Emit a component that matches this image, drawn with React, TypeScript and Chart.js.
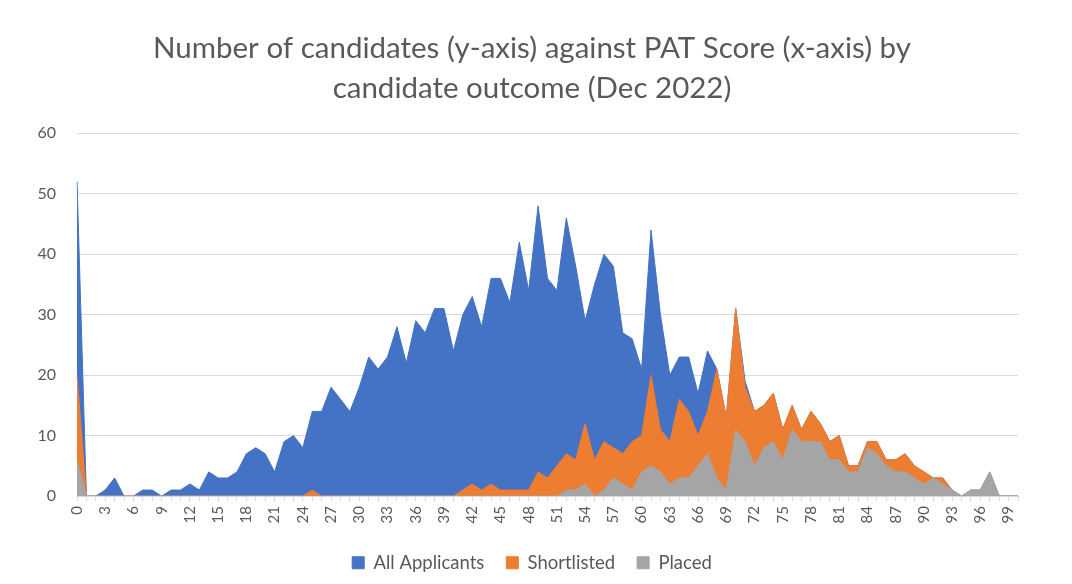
import React, { useEffect, useRef } from 'react';
import { Chart, registerables } from 'chart.js';

Chart.register(...registerables);

const TITLE_LINES = [
  'Number of candidates (y-axis) against PAT Score (x-axis) by',
  'candidate outcome (Dec 2022)',
];

const PAT_SCORES = [
  0, 1, 2, 3, 4, 5, 6, 7, 8, 9, 10, 11, 12, 13, 14, 15, 16, 17, 18, 19,
  20, 21, 22, 23, 24, 25, 26, 27, 28, 29, 30, 31, 32, 33, 34, 35, 36, 37, 38, 39,
  40, 41, 42, 43, 44, 45, 46, 47, 48, 49, 50, 51, 52, 53, 54, 55, 56, 57, 58, 59,
  60, 61, 62, 63, 64, 65, 66, 67, 68, 69, 70, 71, 72, 73, 74, 75, 76, 77, 78, 79,
  80, 81, 82, 83, 84, 85, 86, 87, 88, 89, 90, 91, 92, 93, 94, 95, 96, 97, 98, 99,
  100,
];

const ALL_APPLICANTS = [
  52, 0, 0, 1, 3, 0, 0, 1, 1, 0, 1, 1, 2, 1, 4, 3, 3, 4, 7, 8,
  7, 4, 9, 10, 8, 14, 14, 18, 16, 14, 18, 23, 21, 23, 28, 22, 29, 27, 31, 31,
  24, 30, 33, 28, 36, 36, 32, 42, 34, 48, 36, 34, 46, 38, 29, 35, 40, 38, 27, 26,
  21, 44, 30, 20, 23, 23, 17, 24, 21, 13, 31, 19, 14, 15, 17, 11, 15, 11, 14, 12,
  9, 10, 5, 5, 9, 9, 6, 6, 7, 5, 4, 3, 3, 1, 0, 1, 1, 4, 0, 0,
  0,
];

const SHORTLISTED = [
  20, 0, 0, 0, 0, 0, 0, 0, 0, 0, 0, 0, 0, 0, 0, 0, 0, 0, 0, 0,
  0, 0, 0, 0, 0, 1, 0, 0, 0, 0, 0, 0, 0, 0, 0, 0, 0, 0, 0, 0,
  0, 1, 2, 1, 2, 1, 1, 1, 1, 4, 3, 5, 7, 6, 12, 6, 9, 8, 7, 9,
  10, 20, 11, 9, 16, 14, 10, 14, 21, 13, 31, 18, 14, 15, 17, 11, 15, 11, 14, 12,
  9, 10, 5, 5, 9, 9, 6, 6, 7, 5, 4, 3, 3, 1, 0, 0, 0, 0, 0, 0,
  0,
];

const PLACED = [
  6, 0, 0, 0, 0, 0, 0, 0, 0, 0, 0, 0, 0, 0, 0, 0, 0, 0, 0, 0,
  0, 0, 0, 0, 0, 0, 0, 0, 0, 0, 0, 0, 0, 0, 0, 0, 0, 0, 0, 0,
  0, 0, 0, 0, 0, 0, 0, 0, 0, 0, 0, 0, 1, 1, 2, 0, 1, 3, 2, 1,
  4, 5, 4, 2, 3, 3, 5, 7, 3, 1, 11, 9, 5, 8, 9, 6, 11, 9, 9, 9,
  6, 6, 4, 4, 8, 7, 5, 4, 4, 3, 2, 3, 2, 1, 0, 1, 1, 4, 0, 0,
  0,
];

const SERIES_NAMES = ['All Applicants', 'Shortlisted', 'Placed'];
const SERIES_COLORS = ['#4472C4', '#ED7D31', '#A5A5A5'];

const Y_MIN = 0;
const Y_MAX = 60;
const Y_STEP = 10;
const X_LABEL_EVERY = 3;

const FONT = 'Lato, "Open Sans", "DejaVu Sans", sans-serif';
const TEXT_COLOR = '#595959';
const GRID_COLOR = '#D9D9D9';

export default function App() {
  const canvasRef = useRef<HTMLCanvasElement | null>(null);

  useEffect(() => {
    const canvas = canvasRef.current;
    if (!canvas) return;
    const seriesValues = [ALL_APPLICANTS, SHORTLISTED, PLACED];
    const chart = new Chart(canvas, {
      type: 'line',
      data: {
        labels: PAT_SCORES.map(String),
        datasets: seriesValues.map((vals, i) => ({
          label: SERIES_NAMES[i],
          data: vals,
          backgroundColor: SERIES_COLORS[i],
          borderColor: SERIES_COLORS[i],
          borderWidth: 1,
          pointRadius: 0,
          pointHoverRadius: 0,
          tension: 0,
          fill: 'origin',
          order: 3 - i,
          yAxisID: 'y',
        })),
      },
      options: {
        animation: false,
        responsive: false,
        maintainAspectRatio: false,
        events: [],
        layout: { padding: { left: 0, right: 8, top: 0, bottom: 2 } },
        plugins: {
          title: {
            display: true,
            text: TITLE_LINES,
            color: TEXT_COLOR,
            font: { family: FONT, size: 29.5, weight: 'normal', lineHeight: 1.36 },
            padding: { top: 28, bottom: 25 },
          },
          legend: {
            display: true,
            position: 'bottom',
            labels: {
              color: TEXT_COLOR,
              font: { family: FONT, size: 18.5 },
              boxWidth: 12,
              boxHeight: 12,
              padding: 22,
              sort: (a: any, b: any) => a.datasetIndex - b.datasetIndex,
            },
          },
          tooltip: { enabled: false },
        },
        scales: {
          x: {
            type: 'category',
            offset: false,
            ticks: {
              autoSkip: false,
              maxRotation: 90,
              minRotation: 90,
              color: TEXT_COLOR,
              font: { family: FONT, size: 15 },
              padding: 5,
              callback: (_v: any, idx: number) =>
                idx % X_LABEL_EVERY === 0 ? String(PAT_SCORES[idx]) : '',
            },
            grid: {
              drawOnChartArea: false,
              drawTicks: true,
              tickLength: 5,
              color: GRID_COLOR,
            },
            border: { display: true, color: GRID_COLOR },
            afterFit: (scale: any) => {
              scale.height = scale.height + 3;
            },
          },
          y: {
            position: 'left',
            min: Y_MIN,
            max: Y_MAX,
            ticks: {
              stepSize: Y_STEP,
              color: TEXT_COLOR,
              font: { family: FONT, size: 16 },
              padding: 21,
            },
            grid: { color: GRID_COLOR, drawTicks: false },
            border: { display: false },
            afterFit: (scale: any) => {
              scale.width = 77;
            },
          },
          yRightSpacer: {
            type: 'linear',
            position: 'right',
            display: true,
            grid: { display: false, drawTicks: false },
            border: { display: false },
            ticks: { display: false },
            afterFit: (scale: any) => {
              scale.width = 46;
            },
          },
        },
      },
    });
    return () => chart.destroy();
  }, []);

  return (
    <div style={{ position: 'fixed', left: 0, top: 0, width: 1072, height: 584, background: '#fff' }}>
      <canvas ref={canvasRef} width={1072} height={584} style={{ width: 1072, height: 584, display: 'block' }} />
    </div>
  );
}
